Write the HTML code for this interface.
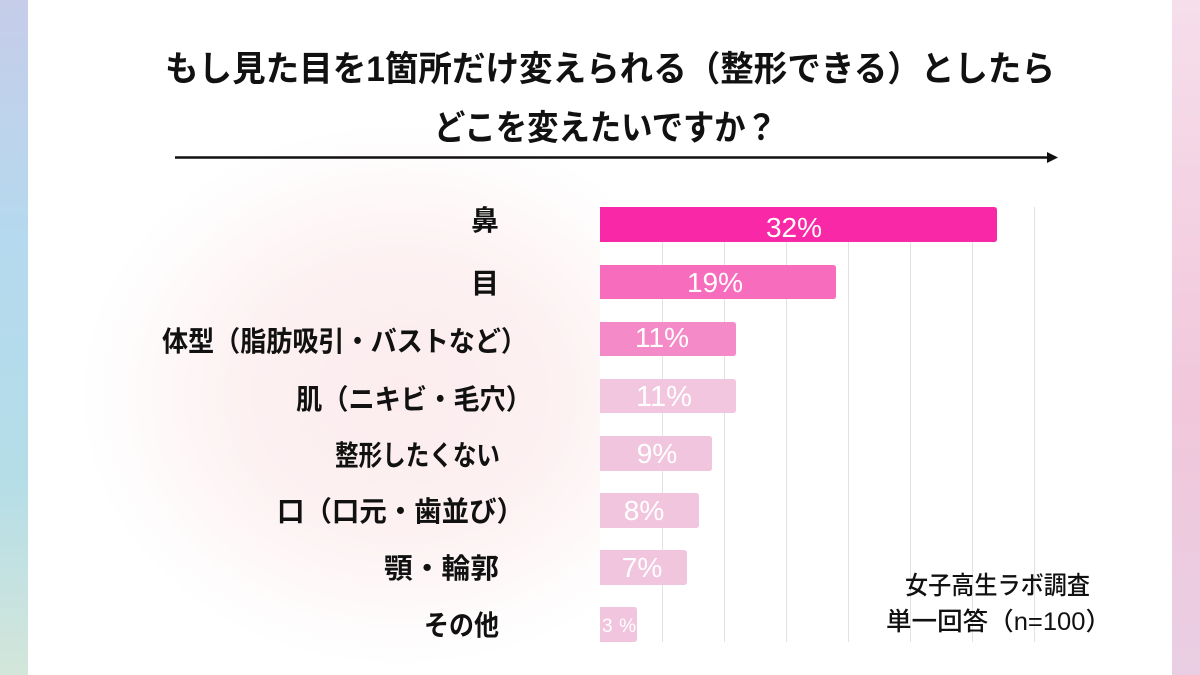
<!DOCTYPE html>
<html>
<head>
<meta charset="utf-8">
<style>
html,body{margin:0;padding:0;background:#fff;}
body{width:1200px;height:675px;overflow:hidden;}
svg{display:block;}
.jp{font-family:"Liberation Sans","Noto Sans CJK JP",sans-serif;}
</style>
</head>
<body>
<svg width="1200" height="675" viewBox="0 0 1200 675" xmlns="http://www.w3.org/2000/svg">
  <defs>
    <linearGradient id="lp" x1="0" y1="0" x2="0" y2="1">
      <stop offset="0" stop-color="#c6cde9"/>
      <stop offset="0.35" stop-color="#b5d9ee"/>
      <stop offset="0.7" stop-color="#b4dde8"/>
      <stop offset="1" stop-color="#d3e6da"/>
    </linearGradient>
    <linearGradient id="rp" x1="0" y1="0" x2="0" y2="1">
      <stop offset="0" stop-color="#f6deeb"/>
      <stop offset="0.6" stop-color="#f2c7db"/>
      <stop offset="1" stop-color="#e9cee3"/>
    </linearGradient>
    <radialGradient id="glow" gradientUnits="userSpaceOnUse" cx="400" cy="395" r="320" gradientTransform="translate(400 395) scale(1 0.85) translate(-400 -395)">
      <stop offset="0" stop-color="#fcecee"/>
      <stop offset="0.5" stop-color="#fdf1f2"/>
      <stop offset="0.8" stop-color="#fefafa"/>
      <stop offset="1" stop-color="#ffffff"/>
    </radialGradient>
  </defs>

  <!-- background -->
  <rect x="0" y="0" width="1200" height="675" fill="#ffffff"/>
  <rect x="28" y="0" width="1144" height="675" fill="url(#glow)"/>
  <rect x="0" y="0" width="28" height="675" fill="url(#lp)"/>
  <rect x="1172" y="0" width="28" height="675" fill="url(#rp)"/>

  <!-- title -->
  <text class="jp" x="165" y="81" font-size="35" font-weight="700" fill="#111" textLength="890" lengthAdjust="spacingAndGlyphs">もし見た目を1箇所だけ変えられる（整形できる）としたら</text>
  <text class="jp" x="434" y="140" font-size="35" font-weight="700" fill="#111" textLength="343" lengthAdjust="spacingAndGlyphs">どこを変えたいですか？</text>

  <!-- arrow -->
  <line x1="175" y1="157.5" x2="1050" y2="157.5" stroke="#111" stroke-width="2.5"/>
  <polygon points="1047,152 1058,157.5 1047,163" fill="#111"/>

  <!-- plot area -->
  <rect x="600" y="200" width="442" height="446" fill="#ffffff"/>
  <g stroke="#e2e2e2" stroke-width="1">
    <line x1="662.5" y1="207" x2="662.5" y2="642"/>
    <line x1="724.5" y1="207" x2="724.5" y2="642"/>
    <line x1="786.5" y1="207" x2="786.5" y2="642"/>
    <line x1="848.5" y1="207" x2="848.5" y2="642"/>
    <line x1="910.5" y1="207" x2="910.5" y2="642"/>
    <line x1="972.5" y1="207" x2="972.5" y2="642"/>
    <line x1="1034.5" y1="207" x2="1034.5" y2="642"/>
  </g>

  <!-- bars -->
  <path d="M600 207 H994 Q997 207 997 210 V239 Q997 242 994 242 H600 Z" fill="#f928a6"/>
  <path d="M600 265 H833 Q836 265 836 268 V296 Q836 299 833 299 H600 Z" fill="#f76cbd"/>
  <path d="M600 322 H733 Q736 322 736 325 V353 Q736 356 733 356 H600 Z" fill="#f48bc8"/>
  <path d="M600 379 H733 Q736 379 736 382 V410 Q736 413 733 413 H600 Z" fill="#f2c6de"/>
  <path d="M600 436 H709 Q712 436 712 439 V468 Q712 471 709 471 H600 Z" fill="#f2c5de"/>
  <path d="M600 493 H696 Q699 493 699 496 V525 Q699 528 696 528 H600 Z" fill="#f2c5de"/>
  <path d="M600 550 H684 Q687 550 687 553 V582 Q687 585 684 585 H600 Z" fill="#f2c5de"/>
  <path d="M600 607 H634 Q637 607 637 610 V639 Q637 642 634 642 H600 Z" fill="#f2c5de"/>

  <!-- values -->
  <g font-family="'Liberation Sans', sans-serif" fill="#ffffff" text-anchor="middle">
    <text x="794" y="237" font-size="28">32%</text>
    <text x="715" y="292" font-size="28">19%</text>
    <text x="662" y="347" font-size="28">11%</text>
    <text x="664" y="406" font-size="29">11%</text>
    <text x="657" y="463" font-size="28">9%</text>
    <text x="644" y="520" font-size="28">8%</text>
    <text x="642" y="577" font-size="28">7%</text>
  </g>
  <text x="602" y="632" font-family="'Liberation Sans', sans-serif" font-size="19" fill="#ffffff" textLength="34" lengthAdjust="spacing">3%</text>

  <!-- category labels -->
  <g class="jp" font-size="28" font-weight="700" fill="#111">
    <text x="499" y="230" text-anchor="end">鼻</text>
    <text x="499" y="293" text-anchor="end">目</text>
    <text x="162" y="351" textLength="365" lengthAdjust="spacingAndGlyphs">体型（脂肪吸引・バストなど）</text>
    <text x="296" y="409" textLength="236" lengthAdjust="spacingAndGlyphs">肌（ニキビ・毛穴）</text>
    <text x="335" y="465" textLength="165" lengthAdjust="spacingAndGlyphs">整形したくない</text>
    <text x="277" y="521" textLength="247" lengthAdjust="spacingAndGlyphs">口（口元・歯並び）</text>
    <text x="384" y="578" textLength="115" lengthAdjust="spacingAndGlyphs">顎・輪郭</text>
    <text x="424" y="635" textLength="75" lengthAdjust="spacingAndGlyphs">その他</text>
  </g>

  <!-- source -->
  <g class="jp" font-size="25" font-weight="500" fill="#111">
    <text x="905" y="594" textLength="185" lengthAdjust="spacingAndGlyphs">女子高生ラボ調査</text>
    <text x="886" y="630" textLength="225" lengthAdjust="spacingAndGlyphs">単一回答（n=100）</text>
  </g>
</svg>
</body>
</html>
